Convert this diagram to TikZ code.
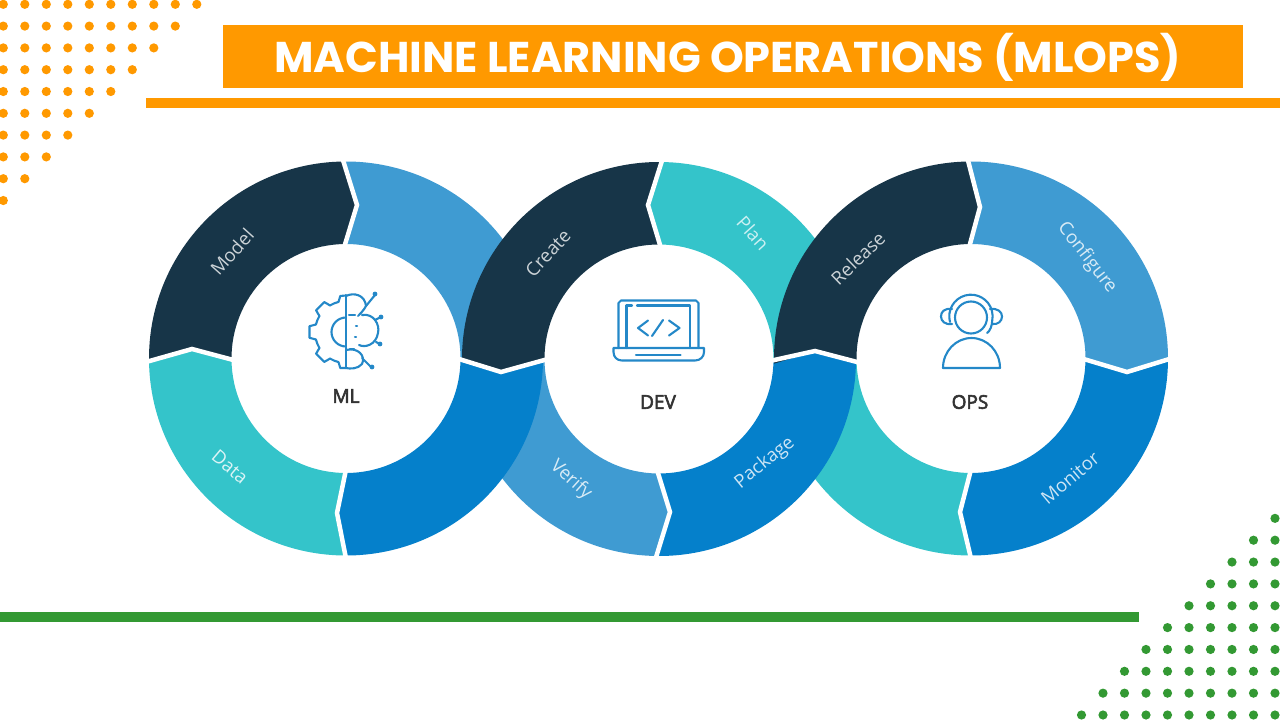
\documentclass[tikz,border=0pt]{standalone}
\usepackage{fontspec}
\usetikzlibrary{calc}
\newfontfamily\titlefont{Poppins}
\newfontfamily\ringfont{Open Sans}
\newfontfamily\centerfont[FakeBold=3]{Open Sans}
\definecolor{barorange}{HTML}{FF9900}
\definecolor{bargreen}{HTML}{339933}
\definecolor{ringdark}{HTML}{173548}
\definecolor{ringlight}{HTML}{3F9BD2}
\definecolor{ringteal}{HTML}{34C4CA}
\definecolor{ringblue}{HTML}{0580CB}
\definecolor{iconblue}{HTML}{2488C8}
\definecolor{centertext}{HTML}{333333}
\newcommand{\ringpart}[6]{\fill[#1] ($(#2)+(#3:197)$) arc[start angle=#3,end angle=#5,radius=197] -- (#6) -- ($(#2)+(#5:114.5)$) arc[start angle=#5,end angle=#3,radius=114.5] -- (#4) -- cycle;}
\newcommand{\ringgap}[3]{\draw[gapline] ($(#1)+(#2:200)$) -- (#3) -- ($(#1)+(#2:111)$);}
\begin{document}
\begin{tikzpicture}[x=1pt,y=-1pt,
    gapline/.style={white,line width=4.5pt,miter limit=10},
    seglabel/.style={font=\ringfont\fontsize{18.5}{22}\selectfont},
    centerlabel/.style={text=centertext,font=\centerfont\fontsize{19}{22}\selectfont},
    iconline/.style={iconblue,line width=2.1pt,line cap=round,line join=round}]
    \useasboundingbox (0,0) rectangle (1280,720);
    \fill[white] (0,0) rectangle (1280,720);
    \foreach \row in {0,...,9} {
      \pgfmathtruncatemacro{\last}{9-\row}
      \foreach \col in {0,...,\last} {
        \fill[barorange] (3.3+21.5*\col,4.3+21.8*\row) circle (4.6);
        \fill[bargreen] (1275-21.5*\col,715-21.85*\row) circle (4.6);
      }
    }
    \fill[barorange] (223,25) rectangle (1243,88);
    \fill[barorange] (146,98) rectangle (1280,108);
    \fill[bargreen] (0,612) rectangle (1139,622);
    \node[text=white,font=\titlefont\bfseries\fontsize{43}{48}\selectfont] (title) at (728,57) {MACHINE LEARNING OPERATIONS (MLOPS)};

    \coordinate (mlc) at (346,358.5);
    \coordinate (devc) at (659,359);
    \coordinate (opsc) at (971,358.5);
    \coordinate (mltop) at (357,205);
    \coordinate (mlleft) at (192,349);
    \coordinate (mlbot) at (337,513);
    \coordinate (devtop) at (648,205);
    \coordinate (devleft) at (501,372);
    \coordinate (devright) at (815,351);
    \coordinate (devbot) at (670,512);
    \coordinate (opstop) at (980,207);
    \coordinate (opsright) at (1127,372);
    \coordinate (opsbot) at (960,512);
    \coordinate (gearc) at (346,332);

    \ringpart{ringlight}{mlc}{269}{mltop}{360}{devleft}
    \ringpart{ringlight}{devc}{91}{devbot}{180}{devleft}
    \ringpart{ringteal}{devc}{271}{devtop}{361}{devright}
    \ringpart{ringteal}{opsc}{90}{opsbot}{178.5}{devright}
    \ringpart{ringblue}{mlc}{0}{devleft}{90}{mlbot}
    \ringpart{ringblue}{devc}{1}{devright}{91}{devbot}
    \ringpart{ringdark}{mlc}{179}{mlleft}{269}{mltop}
    \ringpart{ringteal}{mlc}{90}{mlbot}{179}{mlleft}
    \ringpart{ringdark}{devc}{180}{devleft}{271}{devtop}
    \ringpart{ringdark}{opsc}{178.5}{devright}{269}{opstop}
    \ringpart{ringlight}{opsc}{269}{opstop}{360}{opsright}
    \ringpart{ringblue}{opsc}{0}{opsright}{90}{opsbot}

    \ringgap{mlc}{269}{mltop}
    \ringgap{mlc}{179}{mlleft}
    \ringgap{mlc}{90}{mlbot}
    \ringgap{devc}{271}{devtop}
    \ringgap{devc}{180}{devleft}
    \ringgap{devc}{1}{devright}
    \ringgap{devc}{91}{devbot}
    \ringgap{opsc}{269}{opstop}
    \ringgap{opsc}{0}{opsright}
    \ringgap{opsc}{90}{opsbot}

    \node[seglabel,text=white!78!ringdark,rotate=48] (model) at (232,252) {Model};
    \node[seglabel,text=white!82!ringteal,rotate=-40] (data) at (230,467) {Data};
    \node[seglabel,text=white!78!ringdark,rotate=47] (create) at (548,253) {Create};
    \node[seglabel,text=white!75!ringteal,rotate=-48] (plan) at (753,233) {Plan};
    \node[seglabel,text=white!80!ringlight,rotate=-42] (verify) at (571,480) {Verify};
    \node[seglabel,text=white!80!ringblue,rotate=39] (package) at (765,463) {Package};
    \node[seglabel,text=white!78!ringdark,rotate=44] (release) at (858,258) {Release};
    \node[seglabel,text=white!80!ringlight,rotate=-52] (configure) at (1087,258) {Configure};
    \node[seglabel,text=white!80!ringblue,rotate=40] (monitor) at (1070,478) {Monitor};

    \node[centerlabel] (mllabel) at (346,396) {ML};
    \node[centerlabel] (devlabel) at (658,402) {DEV};
    \node[centerlabel] (opslabel) at (970,402) {OPS};

    \draw[iconline] (346,295) -- (346,368);
    \foreach \a in {135,180,225} {
      \draw[iconline] ($(gearc)+(\a-14:31)$) -- ($(gearc)+(\a-9:37)$) -- ($(gearc)+(\a+9:37)$) -- ($(gearc)+(\a+14:31)$);
    }
    \foreach \a in {149,194,239} {
      \draw[iconline] ($(gearc)+(\a:31)$) arc[start angle=\a,end angle=\a+17,radius=31];
    }
    \draw[iconline] (346,368) -- ($(gearc)+(99:36.5)$) -- ($(gearc)+(104:31)$) arc[start angle=104,end angle=121,radius=31];
    \draw[iconline] (346,295.5) -- ($(gearc)+(261:36.5)$) -- ($(gearc)+(256:31)$);
    \draw[iconline] (346,317.5) arc[start angle=270,end angle=90,radius=14.5];
    \draw[iconline] (346,296) .. controls (354,292) and (365,295) .. (366,306) .. controls (364,310) and (360,314) .. (358,316);
    \draw[iconline] (362,315) .. controls (374,313) and (380,325) .. (378,333) .. controls (376,345) and (365,348) .. (359,345);
    \draw[iconline] (346,350) .. controls (358,347) and (366,356) .. (362,364) .. controls (358,369) and (350,369) .. (346,368);
    \draw[iconline] (366,306) -- (375,295);
    \draw[iconline] (375,320) -- (381,317);
    \draw[iconline] (376,342) -- (380,344);
    \draw[iconline] (362,358) -- (371,367);
    \foreach \p in {(375,294),(381,317),(380,344),(372,367)} {
      \fill[iconblue] \p circle (2.4);
    }
    \draw[iconline] (349,315) -- (355,315);
    \draw[iconline] (356,326) -- (357,326);
    \draw[iconline] (355,337) -- (356,337);
    \draw[iconline] (350,349) -- (354,349);

    \draw[iconline] (618.5,348) -- (618.5,303) -- (621,300.5) -- (696,300.5) -- (698.5,303) -- (698.5,348);
    \draw[iconline] (626.5,348) -- (626.5,305.5) -- (632,305.5) (637,305.5) -- (690,305.5) -- (690,348);
    \draw[iconline] (613.5,348) -- (704,348) -- (704,352) .. controls (704,357) and (700,360.5) .. (695,360.5) -- (622,360.5) .. controls (617,360.5) and (613.5,357) .. (613.5,352) -- cycle;
    \draw[iconline] (636,355) -- (680.5,355);
    \draw[iconline] (648,320.5) -- (638,328) -- (648,335.5);
    \draw[iconline] (663,320) -- (652,336);
    \draw[iconline] (669,320.5) -- (679.5,328) -- (669,335.5);

    \draw[iconline] (971,317.5) circle (16);
    \draw[iconline] (950,322) arc[start angle=165,end angle=372,radius=21.7] .. controls (992,326) and (990,331) .. (987,333);
    \draw[iconline] (952,309) .. controls (944,308) and (941,312) .. (941,316.5) .. controls (941,321) and (945,325) .. (952,324);
    \draw[iconline] (990,309) .. controls (998,308) and (1002,312) .. (1002,316.5) .. controls (1002,321) and (998,325) .. (992,324);
    \draw[iconline] (943,368) arc[start angle=180,end angle=360,x radius=28.5,y radius=30] -- cycle;
\end{tikzpicture}
\end{document}
